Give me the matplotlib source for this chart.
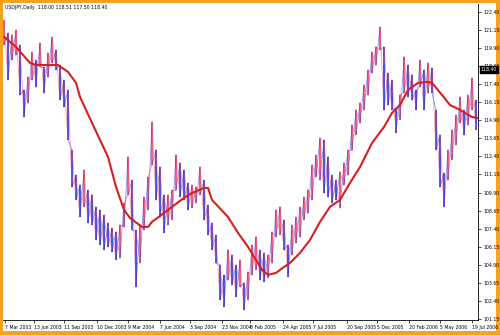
import matplotlib
matplotlib.use("Agg")
import matplotlib.pyplot as plt
from matplotlib.patches import Rectangle

# ---------------------------------------------------------------- data
# USDJPY daily, one entry per ~4 screen pixels
bar_high = [121.85, 120.95, 120.81, 121.15, 120.12, 117.00, 117.90, 119.63, 119.08, 120.25,
            118.59, 119.56, 120.67, 119.77, 118.73, 117.69, 117.00, 112.85, 111.12, 110.43,
            111.47, 110.08, 109.74, 108.91, 108.70, 108.35, 107.80, 107.45, 107.18, 107.66,
            109.18, 112.37, 110.77, 107.31, 107.66, 109.60, 110.98, 114.79, 112.85, 111.67,
            109.74, 109.74, 110.08, 112.50, 111.95, 111.47, 110.57, 110.43, 110.29, 111.67,
            110.77, 109.04, 107.80, 106.97, 104.89, 104.20, 105.93, 105.58, 104.89, 105.24,
            103.65, 104.41, 106.28, 106.83, 105.93, 105.72, 105.58, 107.18, 108.70, 108.91,
            108.01, 106.28, 107.66, 108.21, 108.91, 109.60, 110.08, 111.81, 112.50, 113.68,
            113.54, 112.37, 111.12, 110.77, 111.33, 111.95, 112.85, 114.58, 115.62, 116.10,
            117.35, 118.39, 119.63, 119.98, 121.36, 119.98, 118.18, 117.69, 115.76, 116.66,
            119.29, 118.73, 118.04, 117.00, 119.08, 118.39, 118.87, 118.52, 115.62, 113.89,
            111.26, 112.85, 114.23, 115.27, 116.52, 115.62, 116.66, 117.83, 116.31]
bar_low = [120.12, 117.69, 119.08, 119.42, 116.66, 115.13, 116.10, 117.69, 117.21, 118.59,
           116.79, 117.90, 118.87, 118.39, 116.31, 115.83, 113.54, 110.29, 109.39, 108.21,
           108.91, 107.80, 107.66, 106.62, 106.28, 105.93, 106.14, 105.79, 105.24, 105.38,
           107.52, 109.74, 107.31, 103.37, 105.03, 107.31, 108.70, 111.81, 109.39, 108.21,
           107.11, 107.66, 108.01, 110.08, 109.60, 109.39, 108.70, 108.84, 109.18, 109.74,
           108.01, 106.97, 105.93, 105.03, 102.47, 101.99, 103.85, 103.51, 102.68, 103.37,
           101.78, 102.47, 104.20, 104.55, 103.85, 103.72, 103.99, 105.03, 106.83, 106.97,
           105.93, 104.06, 105.58, 106.41, 106.83, 108.01, 108.49, 109.39, 110.98, 110.77,
           109.87, 109.60, 109.18, 109.39, 108.84, 110.43, 111.12, 112.85, 113.89, 114.72,
           115.62, 116.66, 118.18, 118.73, 119.77, 115.62, 115.96, 115.62, 114.03, 114.93,
           116.79, 116.52, 116.31, 115.62, 117.21, 115.62, 116.79, 116.79, 112.85, 110.29,
           108.91, 110.77, 112.16, 113.20, 114.72, 113.89, 114.58, 115.62, 114.23]

# moving average, sampled at these bar numbers
ma_bar = [0, 3, 6.5, 8, 13.5, 16, 18, 19, 22, 26, 28, 30, 31.5, 34.5, 36, 37, 39, 42, 45, 47,
          50, 51, 52, 56, 58.5, 61, 63, 64.5, 66, 68, 70, 71.5, 74, 76.5, 79, 81.5, 84, 86.5,
          89, 92, 95, 97, 99, 101, 103.5, 106, 107, 109.5, 111.5, 114, 117, 118.5]
ma_value = [120.67, 119.98, 118.87, 118.73, 118.73, 118.25, 117.49, 116.52, 114.72, 112.37,
            110.29, 108.70, 108.14, 107.52, 107.52, 107.87, 108.28, 108.91, 109.53, 109.87,
            110.22, 110.22, 109.39, 108.21, 107.11, 106.14, 105.24, 104.55, 104.20, 104.34,
            104.75, 105.03, 105.72, 106.62, 107.87, 108.91, 109.39, 110.57, 111.67, 113.33,
            114.44, 115.41, 115.96, 117.00, 117.49, 117.56, 117.49, 116.66, 115.96, 115.62,
            115.13, 115.06]

date_pos = [0.25, 7.5, 15, 23.25, 31, 39, 46.5, 54.5, 61.5, 69.75, 77.25, 85.75, 93.25,
            101.25, 109, 117]
date_labels = ["7 Mar 2003", "13 Jun 2003", "11 Sep 2003", "10 Dec 2003", "9 Mar 2004",
               "7 Jun 2004", "3 Sep 2004", "23 Nov 2004", "8 Feb 2005", "24 Apr 2005",
               "7 Jul 2005", "20 Sep 2005", "5 Dec 2005", "20 Feb 2006", "5 May 2006",
               "19 Jul 2006"]
price_ticks = [122.40, 121.15, 119.90, 118.65, 117.40, 116.15, 114.90, 113.65, 112.40,
               111.15, 109.90, 108.65, 107.40, 106.15, 104.90, 103.65, 102.40, 101.15]
last_price = 118.40
header = "USDJPY,Daily  118.00 118.51 117.50 118.40"

# ---------------------------------------------------------------- style
ORANGE = "#F6A21E"
UP = "#3030D4"
DOWN = "#E8456E"
MA_RED = "#D81E1E"
FS = 3.3

fig = plt.figure(figsize=(5.0, 3.35), dpi=100)
fig.patch.set_facecolor(ORANGE)
fig.add_artist(Rectangle((3 / 500, 4 / 335), 493 / 500, 328 / 335,
                         transform=fig.transFigure, facecolor="white",
                         edgecolor="none", zorder=0))

ax = fig.add_axes([3 / 500, 15 / 335, 475 / 500, 316 / 335])
ax.set_facecolor("none")

n = len(bar_high)
for i in range(n):
    mid = (bar_high[i] + bar_low[i]) / 2
    prev = (bar_high[i - 1] + bar_low[i - 1]) / 2 if i else mid
    col = UP if mid < prev else DOWN
    ax.vlines(i, bar_low[i], bar_high[i], color=col, linewidth=1.4, alpha=0.85, zorder=2)
    if i:
        # thin joins so the series reads as a dense daily trace
        ax.plot([i - 1, i], [bar_low[i - 1], bar_high[i]], color=UP, linewidth=0.6,
                alpha=0.55, zorder=2)
        ax.plot([i - 1, i], [bar_high[i - 1], bar_low[i]], color=DOWN, linewidth=0.6,
                alpha=0.55, zorder=2)

ax.plot(ma_bar, ma_value, color=MA_RED, linewidth=1.5, zorder=3,
        solid_capstyle="round")

ax.set_xlim(-0.25, 118.5)
ax.set_ylim(101.08, 122.95)

for s in ["top", "left"]:
    ax.spines[s].set_visible(False)
for s in ["right", "bottom"]:
    ax.spines[s].set_linewidth(0.6)
    ax.spines[s].set_color("black")

ax.yaxis.tick_right()
ax.set_yticks(price_ticks)
ax.set_yticklabels([f"{p:.2f}" for p in price_ticks], fontsize=FS)
ax.tick_params(axis="y", length=2, width=0.5, pad=2)
ax.set_xticks(date_pos)
ax.set_xticklabels(date_labels, fontsize=FS, ha="left")
ax.tick_params(axis="x", length=2, width=0.5, pad=1.5)

# current price box on the price scale
ax.text(1.006, last_price, f"{last_price:.2f}", transform=ax.get_yaxis_transform(),
        fontsize=FS, color="white", va="center", ha="left",
        bbox=dict(facecolor="black", edgecolor="black", pad=0.8), zorder=6,
        clip_on=False)

fig.text(5 / 500, 1 - 8 / 335, header, fontsize=FS, va="center", ha="left")

fig.savefig("out.png", dpi=100, facecolor=ORANGE)
